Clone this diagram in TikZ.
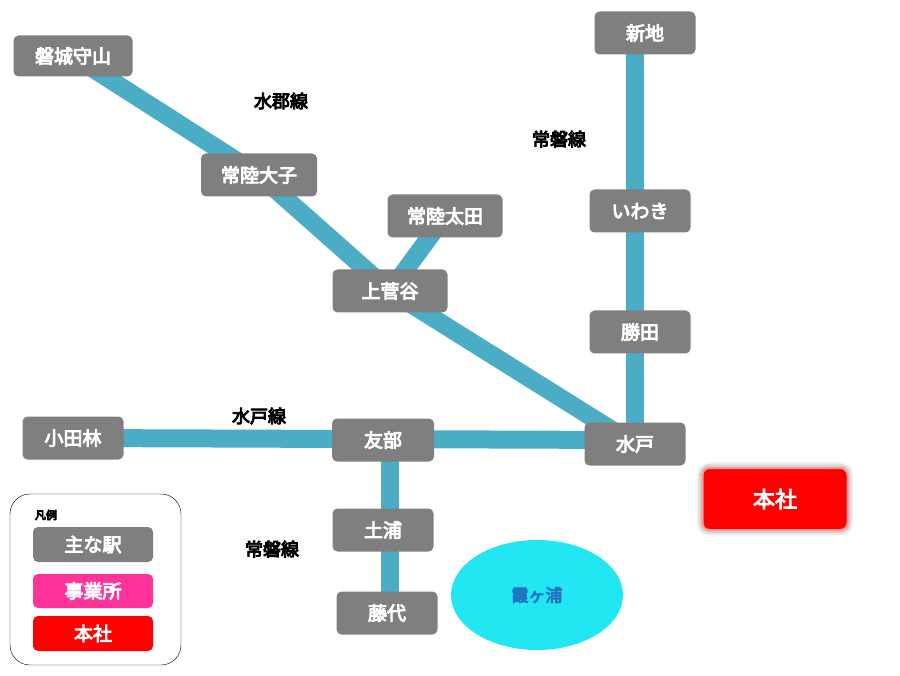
\documentclass[tikz,border=0pt]{standalone}
\usepackage{fontspec}
\setmainfont{Noto Sans CJK JP}
\newcommand\bfj{\selectfont}
\newcommand\bt[1]{\special{pdf:literal direct 2 Tr 0.9 w}#1\special{pdf:literal direct 0 Tr}}
\usetikzlibrary{shadows.blur,shapes.geometric}
\definecolor{rail}{HTML}{4BACC6}
\definecolor{stn}{HTML}{7F7F7F}
\definecolor{pinkc}{HTML}{FF3399}
\definecolor{lakec}{HTML}{22E6F2}
\definecolor{laket}{HTML}{1F74C4}
\tikzset{
 st/.style={fill=stn,rounded corners=5pt,text=white,font=\fontsize{19}{19}\bfj,minimum height=43pt,minimum width=101pt,inner sep=0pt},
 rl/.style={draw=rail,line width=18pt},
 lbl/.style={font=\fontsize{18}{18}\bfj},
}
\begin{document}
\begin{tikzpicture}[x=1pt,y=-1pt]
\useasboundingbox (0,0) rectangle (900,676);
\coordinate (mj) at (628,440);
\draw[rl] (73,56) -- (259,175) -- (390,291) -- (mj);
\draw[rl] (390,291) -- (445,216);
\draw[rl] (635,33) -- (635,440);
\draw[rl] (73,438) -- (mj);
\draw[rl] (390,440) -- (390,613);
\node[st,minimum width=119pt,minimum height=41pt] (a) at (73,56) {\bt{磐城守山}};
\node[st] (b) at (645,33) {\bt{新地}};
\node[st,minimum width=116pt] (c) at (259,175) {\bt{常陸大子}};
\node[st,minimum width=115pt] (d) at (445,216) {\bt{常陸太田}};
\node[st] (e) at (640,211) {\bt{いわき}};
\node[st,minimum width=115pt] (f) at (390,291) {\bt{上菅谷}};
\node[st] (g) at (640,332) {\bt{勝田}};
\node[st] (h) at (73,438) {\bt{小田林}};
\node[st,minimum width=102pt] (i) at (383,440) {\bt{友部}};
\node[st] (j) at (635,444) {\bt{水戸}};
\node[st] (k) at (383,530) {\bt{土浦}};
\node[st] (l) at (387,613) {\bt{藤代}};
\node[fill=red,rounded corners=7pt,minimum width=145pt,minimum height=62pt,text=white,font=\fontsize{22}{22}\bfj,blur shadow={shadow xshift=0pt,shadow yshift=0pt,shadow blur radius=6pt,shadow opacity=60,shadow blur extra rounding=4pt}, draw=red!40,line width=2pt] (hq) at (775,499) {\bt{本社}};
\node[ellipse,fill=lakec,minimum width=172pt,minimum height=110pt,text=laket,font=\fontsize{17}{17}\bfj] (lake) at (537,595) {\bt{霞ヶ浦}};
\node[lbl] (t1) at (281,101) {\bt{水郡線}};
\node[lbl] (t2) at (559,139) {\bt{常磐線}};
\node[lbl] (t3) at (259,416) {\bt{水戸線}};
\node[lbl] (t4) at (272,549) {\bt{常磐線}};
\node[draw=black,rounded corners=20pt,minimum width=171pt,minimum height=171pt] (leg) at (95.5,579.5) {};
\node[font=\fontsize{11}{11}\bfj] (lt) at (46,515) {\bt{凡例}};
\node[st,minimum width=120pt,minimum height=35pt] (l1) at (93,544.5) {\bt{主な駅}};
\node[st,fill=pinkc,minimum width=120pt,minimum height=34pt] (l2) at (93,591) {\bt{事業所}};
\node[st,fill=red,minimum width=120pt,minimum height=35pt] (l3) at (93,633.5) {\bt{本社}};
\end{tikzpicture}
\end{document}
